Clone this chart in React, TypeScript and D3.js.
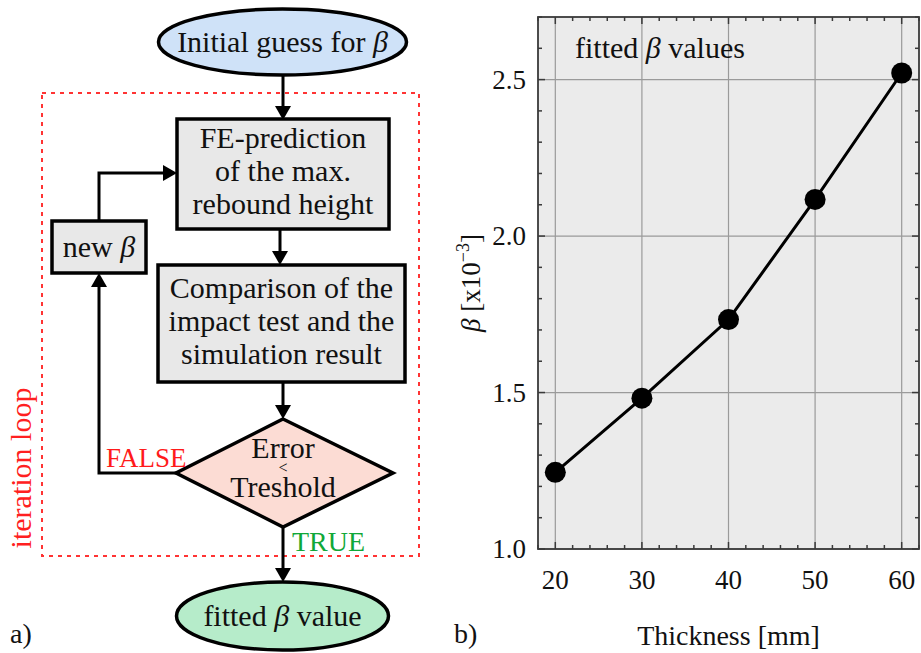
import React from 'react';
import * as d3 from 'd3';

// fitted beta values vs. plate thickness
const thickness = [20, 30, 40, 50, 60];
const betaValues = [1.245, 1.482, 1.733, 2.117, 2.521];
const xTickValues = [20, 30, 40, 50, 60];
const yTickValues = [1.0, 1.5, 2.0, 2.5];

const W = 921;
const H = 653;
const serif = '"Liberation Serif", "Times New Roman", serif';

const plot = { left: 538, right: 919, top: 17, bottom: 549 };

const Beta = () => <tspan fontStyle="italic">β</tspan>;

// simple filled arrow head, tip at (x,y)
const arrowHead = (x: number, y: number, dir: 'down' | 'up' | 'right', key: string) => {
    const l = 14, w = 8;
    let pts = '';
    if (dir === 'down') pts = `${x},${y} ${x - w},${y - l} ${x + w},${y - l}`;
    if (dir === 'up') pts = `${x},${y} ${x - w},${y + l} ${x + w},${y + l}`;
    if (dir === 'right') pts = `${x},${y} ${x - l},${y - w} ${x - l},${y + w}`;
    return <polygon key={key} points={pts} fill="#000" />;
};

const FlowChart = () => {
    const fs = 30;
    return (
        <g fontFamily={serif} fontSize={fs} textAnchor="middle" fill="#111">
            {/* iteration loop frame */}
            <rect x={42} y={93} width={377} height={463} fill="none" stroke="#ff3333"
                strokeWidth={2} strokeDasharray="4 5" />
            <text transform="translate(31,468) rotate(-90)" fill="#ff2020">iteration loop</text>

            {/* start */}
            <ellipse cx={282.5} cy={42} rx={124} ry={33} fill="#cfe2f8" stroke="#000" strokeWidth={3.5} />
            <text x={282.5} y={52}>Initial guess for <Beta /></text>

            {/* arrows down */}
            <line x1={283} y1={76} x2={283} y2={108} stroke="#000" strokeWidth={3} />
            {arrowHead(283, 120, 'down', 'a1')}

            <rect x={177} y={119} width={212} height={110} fill="#e8e8e8" stroke="#000" strokeWidth={3.5} />
            <text x={283} y={148}>FE-prediction</text>
            <text x={283} y={181}>of the max.</text>
            <text x={283} y={214}>rebound height</text>

            <line x1={280} y1={229} x2={280} y2={254} stroke="#000" strokeWidth={3} />
            {arrowHead(280, 265, 'down', 'a2')}

            <rect x={158} y={265} width={247} height={117} fill="#e8e8e8" stroke="#000" strokeWidth={3.5} />
            <text x={281.5} y={298}>Comparison of the</text>
            <text x={281.5} y={331}>impact test and the</text>
            <text x={281.5} y={364}>simulation result</text>

            <line x1={283} y1={382} x2={283} y2={408} stroke="#000" strokeWidth={3} />
            {arrowHead(283, 419, 'down', 'a3')}

            {/* decision */}
            <polygon points="283,419 393,473 283,527 176,473" fill="#fcdcd4" stroke="#000" strokeWidth={3.5} />
            <text x={283} y={458}>Error</text>
            <text x={283} y={473} fontSize={16}>&lt;</text>
            <text x={283} y={497}>Treshold</text>

            <line x1={283} y1={527} x2={283} y2={570} stroke="#000" strokeWidth={3} />
            {arrowHead(283, 582, 'down', 'a4')}
            <text x={292} y={551} textAnchor="start" fontSize={28} fill="#10a838">TRUE</text>

            {/* result */}
            <ellipse cx={282.5} cy={616} rx={106} ry={34} fill="#b6ecca" stroke="#000" strokeWidth={3.5} />
            <text x={282.5} y={626}>fitted <Beta /> value</text>

            {/* loop back */}
            <polyline points="176,473 99,473 99,285" fill="none" stroke="#000" strokeWidth={3} />
            {arrowHead(99, 273, 'up', 'a5')}
            <text x={106} y={467} textAnchor="start" fontSize={27} fill="#ff1a1a">FALSE</text>

            <rect x={52} y={221} width={94} height={52} fill="#e8e8e8" stroke="#000" strokeWidth={3.5} />
            <text x={99} y={257}>new <Beta /></text>

            <polyline points="99,221 99,173 165,173" fill="none" stroke="#000" strokeWidth={3} />
            {arrowHead(177, 173, 'right', 'a6')}

            <text x={10} y={643} textAnchor="start" fontSize={28}>a)</text>
        </g>
    );
};

const BetaChart = () => {
    const x = d3.scaleLinear().domain([18, 62]).range([plot.left, plot.right]);
    const y = d3.scaleLinear().domain([1.0, 2.7]).range([plot.bottom, plot.top]);

    const xMinor = d3.range(18, 62.01, 2);
    const yMinor = d3.range(1.0, 2.701, 0.1);

    const line = d3.line<number>()
        .x((_, i) => x(thickness[i]))
        .y(d => y(d));

    const frame = '#3a3a3a';
    const fs = 27;

    return (
        <g fontFamily={serif} fill="#111">
            <rect x={plot.left} y={plot.top} width={plot.right - plot.left} height={plot.bottom - plot.top} fill="#ebebeb" />

            {/* grid */}
            {xTickValues.map(t => (
                <line key={'gx' + t} x1={x(t)} x2={x(t)} y1={plot.top} y2={plot.bottom} stroke="#9a9a9a" strokeWidth={1.2} />
            ))}
            {yTickValues.map(t => (
                <line key={'gy' + t} x1={plot.left} x2={plot.right} y1={y(t)} y2={y(t)} stroke="#9a9a9a" strokeWidth={1.2} />
            ))}

            {/* ticks, inward on all sides */}
            {xMinor.map(t => {
                const major = xTickValues.some(v => Math.abs(v - t) < 1e-6);
                const len = major ? 7 : 4;
                return (
                    <g key={'tx' + t} stroke={frame} strokeWidth={1.5}>
                        <line x1={x(t)} x2={x(t)} y1={plot.bottom} y2={plot.bottom - len} />
                        <line x1={x(t)} x2={x(t)} y1={plot.top} y2={plot.top + len} />
                    </g>
                );
            })}
            {yMinor.map(t => {
                const major = yTickValues.some(v => Math.abs(v - t) < 1e-6);
                const len = major ? 7 : 4;
                return (
                    <g key={'ty' + t.toFixed(1)} stroke={frame} strokeWidth={1.5}>
                        <line x1={plot.left} x2={plot.left + len} y1={y(t)} y2={y(t)} />
                        <line x1={plot.right} x2={plot.right - len} y1={y(t)} y2={y(t)} />
                    </g>
                );
            })}

            <rect x={plot.left} y={plot.top} width={plot.right - plot.left} height={plot.bottom - plot.top}
                fill="none" stroke={frame} strokeWidth={1.8} />

            {/* data */}
            <path d={line(betaValues) || ''} fill="none" stroke="#000" strokeWidth={3} />
            {betaValues.map((v, i) => (
                <circle key={'p' + i} cx={x(thickness[i])} cy={y(v)} r={10.5} fill="#000" />
            ))}

            {/* tick labels */}
            {yTickValues.map(t => (
                <text key={'ly' + t} x={526} y={y(t) + 9} textAnchor="end" fontSize={fs}>{t.toFixed(1)}</text>
            ))}
            {xTickValues.map(t => (
                <text key={'lx' + t} x={x(t)} y={589} textAnchor="middle" fontSize={fs}>{t}</text>
            ))}

            <text x={(plot.left + plot.right) / 2} y={645} textAnchor="middle" fontSize={28}>Thickness [mm]</text>
            <text transform="translate(480,283) rotate(-90)" textAnchor="middle" fontSize={27}>
                <Beta /> [x10<tspan dy={-11} fontSize={18}>−3</tspan><tspan dy={11}>]</tspan>
            </text>
            <text x={575} y={58} fontSize={30}>fitted <Beta /> values</text>
            <text x={454} y={643} fontSize={28}>b)</text>
        </g>
    );
};

export default function App() {
    return (
        <div style={{ position: 'absolute', left: 0, top: 0, width: W, height: H, background: '#fff' }}>
            <svg width={W} height={H} viewBox={`0 0 ${W} ${H}`} style={{ display: 'block' }}>
                <rect width={W} height={H} fill="#fff" />
                <FlowChart />
                <BetaChart />
            </svg>
        </div>
    );
}
